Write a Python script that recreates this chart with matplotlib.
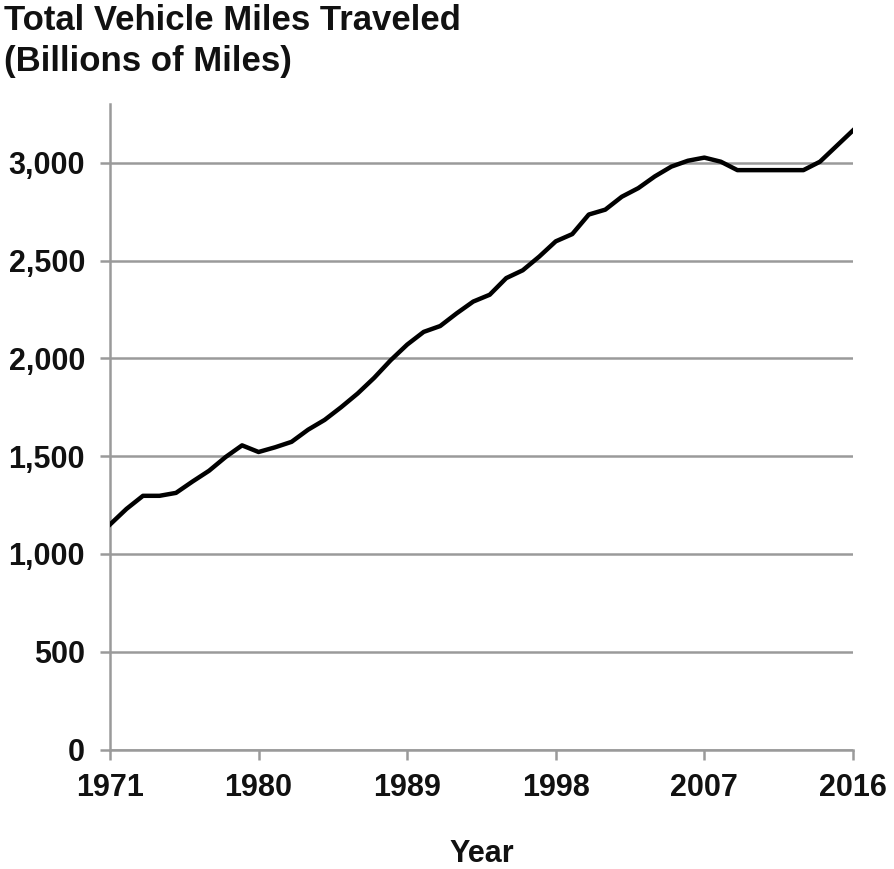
import matplotlib.pyplot as plt
from matplotlib.ticker import FuncFormatter

years = list(range(1971, 2017))
miles = [1150, 1230, 1297, 1297, 1312, 1370, 1425, 1495, 1555, 1521,
         1545, 1573, 1635, 1685, 1750, 1820, 1900, 1990, 2070, 2135,
         2165, 2230, 2290, 2325, 2410, 2450, 2520, 2598, 2635, 2735,
         2760, 2826, 2870, 2930, 2980, 3010, 3026, 3005, 2962, 2962,
         2962, 2962, 2962, 3005, 3085, 3165]

xticks = [1971, 1980, 1989, 1998, 2007, 2016]
yticks = [0, 500, 1000, 1500, 2000, 2500, 3000]

plt.rcParams['font.family'] = ['Liberation Sans', 'DejaVu Sans']
plt.rcParams['font.weight'] = 'bold'

fig = plt.figure(figsize=(8.94, 8.69), dpi=100)
ax = fig.add_axes([0.1230, 0.1375, 0.8311, 0.7428])

grey = '#9a9a9a'
ax.plot(years, miles, color='black', linewidth=3.2, solid_joinstyle='round', zorder=3)

ax.set_xlim(1971, 2016)
ax.set_ylim(0, 3300)
ax.set_xticks(xticks)
ax.set_yticks(yticks)
ax.yaxis.set_major_formatter(FuncFormatter(lambda v, p: '{:,.0f}'.format(v)))

ax.grid(True, axis='y', color=grey, linewidth=1.8)
ax.set_axisbelow(True)
for s in ['top', 'right']:
    ax.spines[s].set_visible(False)
for s in ['left', 'bottom']:
    ax.spines[s].set_color(grey)
    ax.spines[s].set_linewidth(1.8)

ax.tick_params(axis='both', colors=grey, width=1.8, length=7, labelsize=22, labelcolor='#111111')
ax.tick_params(axis='y', pad=11)
ax.tick_params(axis='x', pad=10)

ax.set_xlabel('Year', fontsize=22, fontweight='bold', color='#111111', labelpad=26)

fig.text(0.005, 0.995, 'Total Vehicle Miles Traveled\n(Billions of Miles)',
         ha='left', va='top', fontsize=25, fontweight='bold', color='#111111', linespacing=1.28)

fig.savefig('out.png', dpi=100)
plt.close(fig)
